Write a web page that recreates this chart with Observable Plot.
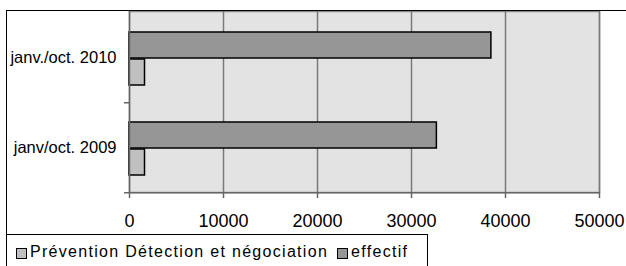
<!DOCTYPE html>
<html>
<head>
<meta charset="utf-8">
<script src="https://cdn.jsdelivr.net/npm/d3@7"></script>
<script src="https://cdn.jsdelivr.net/npm/@observablehq/plot@0.6"></script>
<style>
  html, body { margin: 0; padding: 0; background: #fff; }
  body { width: 626px; height: 266px; overflow: hidden; font-family: "Liberation Sans", Arial, sans-serif; }
  #wrap { position: relative; width: 626px; height: 266px; }
  #frame { position: absolute; left: 6px; top: 10px; width: 640px; height: 300px; border-left: 1.5px solid #000; border-top: 1.5px solid #000; }
  #chart { position: absolute; left: 0; top: 0; }
  #legend { position: absolute; left: 6px; top: 234px; width: 422px; height: 60px; border: 1.2px solid #000; background: #fff; display: flex; align-items: flex-start; padding-top: 8px; box-sizing: border-box; font-size: 16px; letter-spacing: 1.3px; color: #000; white-space: nowrap; }
  .sw { display: inline-block; width: 9px; height: 9px; border: 1.5px solid #000; margin: 2px 3px 0 9px; }
  .item { display: flex; align-items: center; }
</style>
</head>
<body>
<div id="wrap">
  <div id="chart"></div>
  <div id="frame"></div>
  <div id="legend"></div>
</div>
<script>
const periods = ["janv./oct. 2010", "janv/oct. 2009"];
const effectif = [38500, 32700];
const prevention = [1650, 1650];
const xTicks = [0, 10000, 20000, 30000, 40000, 50000];
const seriesNames = ["Prévention Détection et négociation", "effectif"];
const seriesColors = ["#c0c0c0", "#969696"];

const effData = periods.map((p, i) => ({period: p, value: effectif[i]}));
const prevData = periods.map((p, i) => ({period: p, value: prevention[i]}));

const chart = Plot.plot({
  width: 626,
  height: 234,
  marginTop: 11,
  marginBottom: 42,
  marginLeft: 129,
  marginRight: 27,
  style: {fontFamily: "'Liberation Sans', Arial, sans-serif", background: "transparent", color: "#000"},
  x: {domain: [0, 50000]},
  y: {domain: periods, padding: 0},
  marks: [
    Plot.frame({fill: "#e3e3e3", stroke: "#8a8a8a", strokeWidth: 1.5}),
    Plot.ruleX(xTicks.slice(1), {stroke: "#7a7a7a", strokeWidth: 1.5}),
    Plot.barX(effData, {x: "value", y: "period", fill: seriesColors[1], stroke: "#000", strokeWidth: 1.5, insetTop: 20, insetBottom: 44}),
    Plot.barX(prevData, {x: "value", y: "period", fill: seriesColors[0], stroke: "#000", strokeWidth: 1.5, insetTop: 47, insetBottom: 17}),
    Plot.ruleX([0], {stroke: "#666", strokeWidth: 1.5}),
    Plot.ruleY([0], {y: () => periods[1], dy: 45.25, stroke: "#666", strokeWidth: 1.5}),
    Plot.axisX({ticks: xTicks, tickSize: 6, tickPadding: 16, fontSize: 18, tickFormat: d => String(d), stroke: "#666", strokeWidth: 1.5, label: null}),
    Plot.axisY({tickSize: 0, tickPadding: 13, fontSize: 16.5, label: null}),
    Plot.axisY({tickSize: 5, text: null, dy: 45.25, stroke: "#666", strokeWidth: 1.5, label: null})
  ]
});
document.getElementById("chart").appendChild(chart);

const legend = document.getElementById("legend");
seriesNames.forEach((name, i) => {
  const item = document.createElement("span");
  item.className = "item";
  const sw = document.createElement("span");
  sw.className = "sw";
  sw.style.background = seriesColors[i];
  if (i > 0) sw.style.marginLeft = "9px";
  item.appendChild(sw);
  item.appendChild(document.createTextNode(name));
  legend.appendChild(item);
});
</script>
</body>
</html>
